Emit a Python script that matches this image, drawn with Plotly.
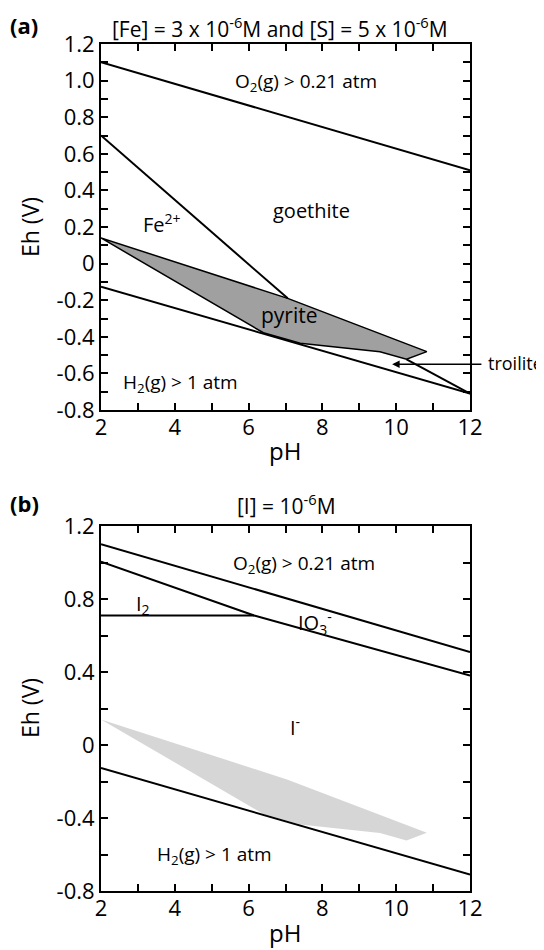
import plotly.graph_objects as go

# ---------------- data ----------------
# panel (a) boundaries (pH, Eh)
o2_ph = [2, 12]
o2_eh = [1.10, 0.51]
h2_ph = [2, 12]
h2_eh = [-0.126, -0.71]
fe_ph = [2, 7.06]
fe_eh = [0.70, -0.19]
troilite_ph = [10.28, 12]
troilite_eh = [-0.523, -0.71]
pyrite_ph = [2, 7.06, 10.83, 10.28, 9.56, 7.4, 6.4, 2]
pyrite_eh = [0.14, -0.19, -0.481, -0.523, -0.482, -0.435, -0.378, 0.14]

# panel (b) boundaries
io3_ph = [2, 6.15, 12]
io3_eh = [1.005, 0.71, 0.38]
i2_ph = [2, 6.15]
i2_eh = [0.71, 0.71]

x_ticks = [2, 4, 6, 8, 10, 12]
x_labels = ["2", "4", "6", "8", "10", "12"]
ya_ticks = [1.2, 1.0, 0.8, 0.6, 0.4, 0.2, 0, -0.2, -0.4, -0.6, -0.8]
ya_labels = ["1.2", "1.0", "0.8", "0.6", "0.4", "0.2", "0", "-0.2", "-0.4", "-0.6", "-0.8"]
yb_ticks = [1.2, 0.8, 0.4, 0, -0.4, -0.8]
yb_labels = ["1.2", "0.8", "0.4", "0", "-0.4", "-0.8"]

FONT = "Open Sans"
W, H, OFF = 544, 950, 8   # page body margin offset


def px(xp):
    return (xp - OFF) / W


def py(yp):
    return 1 - (yp - OFF) / H


fig = go.Figure()
line = dict(color="black", width=2)

# panel a
fig.add_trace(go.Scatter(x=pyrite_ph, y=pyrite_eh, fill="toself", fillcolor="#a0a0a0",
                         line=dict(color="black", width=1.5), mode="lines",
                         xaxis="x", yaxis="y"))
for xs, ys in [(o2_ph, o2_eh), (h2_ph, h2_eh), (fe_ph, fe_eh), (troilite_ph, troilite_eh)]:
    fig.add_trace(go.Scatter(x=xs, y=ys, mode="lines", line=line, xaxis="x", yaxis="y"))

# panel b
fig.add_trace(go.Scatter(x=pyrite_ph, y=pyrite_eh, fill="toself", fillcolor="#d6d6d6",
                         line=dict(color="#d6d6d6", width=0), mode="lines",
                         xaxis="x2", yaxis="y2"))
for xs, ys in [(o2_ph, o2_eh), (h2_ph, h2_eh), (io3_ph, io3_eh), (i2_ph, i2_eh)]:
    fig.add_trace(go.Scatter(x=xs, y=ys, mode="lines", line=line, xaxis="x2", yaxis="y2"))

axis_common = dict(showline=True, linecolor="black", linewidth=2, mirror="allticks",
                   ticks="inside", ticklen=7, tickwidth=1.5, tickcolor="black",
                   showgrid=False, zeroline=False, automargin=False,
                   tickfont=dict(family=FONT, size=22, color="black"))
minor_common = dict(ticks="inside", ticklen=7, tickwidth=1.5, tickcolor="black", showgrid=False)

xdom = [px(101), px(470)]
fig.update_layout(
    template="none",
    width=W, height=H, margin=dict(l=0, r=0, t=0, b=0, pad=0),
    paper_bgcolor="white", plot_bgcolor="white", showlegend=False,
    xaxis=dict(domain=xdom, range=[2, 12], tickmode="array", tickvals=x_ticks,
               ticktext=x_labels, anchor="y", ticklabelstandoff=-3,
               minor=dict(dtick=1, tick0=2, **minor_common), **axis_common),
    yaxis=dict(domain=[py(410), py(44)], range=[-0.8, 1.2], tickmode="array",
               tickvals=ya_ticks, ticktext=ya_labels, anchor="x",
               minor=dict(dtick=0.1, tick0=-0.8, **minor_common), **axis_common),
    xaxis2=dict(domain=xdom, range=[2, 12], tickmode="array", tickvals=x_ticks,
                ticktext=x_labels, anchor="y2", ticklabelstandoff=-3,
                minor=dict(dtick=1, tick0=2, **minor_common), **axis_common),
    yaxis2=dict(domain=[py(891), py(526)], range=[-0.8, 1.2], tickmode="array",
                tickvals=yb_ticks, ticktext=yb_labels, anchor="x2",
                minor=dict(dtick=0.2, tick0=-0.8, **minor_common), **axis_common),
)


def txt(x, y, s, xr="x", yr="y", size=20, xanchor="center", yanchor="middle", angle=0):
    fig.add_annotation(x=x, y=y, xref=xr, yref=yr, text=s, showarrow=False,
                       xanchor=xanchor, yanchor=yanchor, textangle=angle,
                       font=dict(family=FONT, size=size, color="black"))


# axis titles
for yc in (450, 932):
    txt(px(285), py(yc), "pH", xr="paper", yr="paper", size=24)
for yc in (227, 708):
    txt(px(30), py(yc), "Eh (V)", xr="paper", yr="paper", size=23, angle=-90)

# panel a labels
txt(px(24), 1.0, "<b>(a)</b>", xr="paper", yr="paper", size=22, yanchor="top")
txt(px(280), py(27), "[Fe] = 3 x 10<sup>-6</sup>M and [S] = 5 x 10<sup>-6</sup>M",
    xr="paper", yr="paper", size=21)
txt(7.55, 0.99, "O<sub>2</sub>(g) > 0.21 atm", size=19)
txt(7.7, 0.29, "goethite")
txt(3.65, 0.22, "Fe<sup>2+</sup>")
txt(7.1, -0.28, "pyrite", size=21)
txt(4.15, -0.65, "H<sub>2</sub>(g) > 1 atm", size=19)
fig.add_annotation(x=9.89, y=-0.55, xref="x", yref="y", ax=12.35, ay=-0.55, axref="x",
                   ayref="y", text="", showarrow=True, arrowhead=2, arrowsize=1,
                   arrowwidth=1.5, arrowcolor="black")
txt(px(486), py(363), "troilite", xr="paper", yr="paper", size=18, xanchor="left")

# panel b labels
txt(px(24), py(503), "<b>(b)</b>", xr="paper", yr="paper", size=22)
txt(px(286), py(504), "[I] = 10<sup>-6</sup>M", xr="paper", yr="paper", size=21)
txt(7.5, 0.99, "O<sub>2</sub>(g) > 0.21 atm", xr="x2", yr="y2", size=19)
txt(3.15, 0.77, "I<sub>2</sub>", xr="x2", yr="y2")
txt(7.8, 0.67, "IO<sub>3</sub><sup>-</sup>", xr="x2", yr="y2")
txt(7.25, 0.10, "I<sup>-</sup>", xr="x2", yr="y2")
txt(5.07, -0.6, "H<sub>2</sub>(g) > 1 atm", xr="x2", yr="y2", size=19)

fig.write_html("out.html")
